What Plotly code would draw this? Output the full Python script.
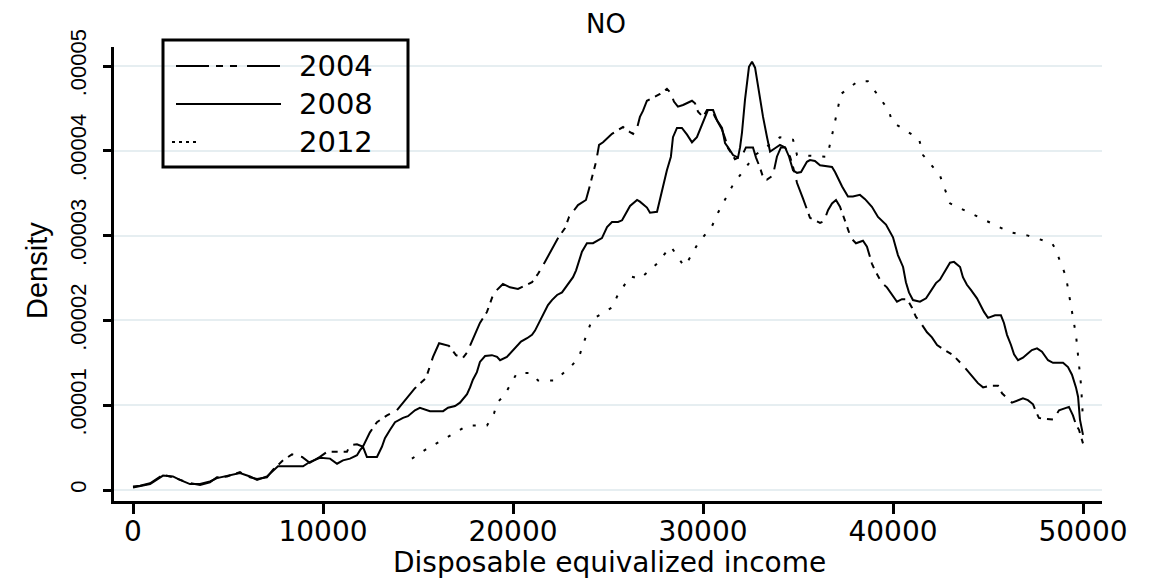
import plotly.graph_objects as go

# ---------------- data (density in units of 1e-5) ----------------
income_2004 = [0, 370, 900, 1580, 2100, 2470, 3000, 3530, 4050, 4420, 4950, 5630, 6160, 6530, 7050, 7370,
               7900, 8370, 8900, 9300, 9840, 10210, 11260, 11420, 11790, 12100, 12470, 12840, 13370, 13890,
               14210, 14470, 14840, 15420, 15630, 15790, 16110, 16630, 17000, 17370, 17580, 17890, 18260,
               18630, 18950, 19160, 19470, 19840, 20260, 21000, 21320, 21680, 22050, 22370, 22740, 22950,
               23420, 23840, 24000, 24160, 24370, 24530, 24740, 25210, 25790, 26160, 26320, 26530, 26680,
               26840, 27050, 27740, 28100, 28310, 28470, 28680, 28950, 29420, 29580, 29740, 30000, 30210,
               30470, 30630, 30790, 31000, 31160, 31320, 31530, 31680, 32050, 32260, 32630, 32790, 33000,
               33160, 33370, 33680, 33890, 34100, 34320, 34580, 34740, 34950, 35260, 35630, 36160, 36370,
               36580, 36790, 37000, 37210, 37420, 37630, 37790, 38050, 38420, 38630, 38890, 39050, 39420,
               39680, 40000, 40210, 40470, 40740, 41000, 41210, 41370, 41790, 42050, 42320, 42580, 43160,
               43680, 44050, 44470, 44740, 45100, 45530, 45740, 46260, 46840, 47100, 47370, 47530, 47680,
               48420, 48740, 49260, 49470, 49630, 49790, 50000]
density_2004 = [0.04, 0.05, 0.08, 0.18, 0.15, 0.12, 0.08, 0.06, 0.09, 0.15, 0.16, 0.21, 0.15, 0.13, 0.15, 0.24,
                0.35, 0.42, 0.39, 0.32, 0.39, 0.45, 0.45, 0.53, 0.54, 0.51, 0.68, 0.80, 0.88, 0.94,
                1.03, 1.10, 1.20, 1.32, 1.47, 1.57, 1.73, 1.70, 1.59, 1.56, 1.62, 1.79, 1.97,
                2.10, 2.30, 2.36, 2.43, 2.39, 2.37, 2.45, 2.55, 2.69, 2.85, 2.97, 3.09, 3.22,
                3.36, 3.42, 3.55, 3.68, 3.87, 4.07, 4.10, 4.20, 4.28, 4.22, 4.20, 4.27, 4.40,
                4.47, 4.59, 4.67, 4.73, 4.68, 4.58, 4.52, 4.54, 4.59, 4.56, 4.46, 4.40, 4.48,
                4.48, 4.40, 4.33, 4.25, 4.15, 4.03, 3.96, 3.90, 3.94, 4.04, 4.04, 3.92, 3.80,
                3.69, 3.66, 3.71, 3.93, 4.04, 4.04, 3.93, 3.81, 3.62, 3.44, 3.21, 3.15, 3.17,
                3.30, 3.38, 3.42, 3.34, 3.21, 3.08, 2.97, 2.91, 2.94, 2.87, 2.67, 2.59, 2.44,
                2.39, 2.28, 2.22, 2.25, 2.25, 2.15, 2.04, 2.00, 1.86, 1.80, 1.71, 1.67, 1.59,
                1.47, 1.37, 1.26, 1.21, 1.23, 1.23, 1.14, 1.03, 1.08, 1.06, 1.01, 0.92, 0.85,
                0.83, 0.94, 0.98, 0.88, 0.77, 0.71, 0.55]

income_2008 = [0, 370, 900, 1580, 2100, 2470, 3000, 3530, 4050, 4420, 4950, 5630, 6160, 6530, 7050, 7370,
               7630, 8950, 9300, 9840, 10370, 10740, 11050, 11420, 11790, 11950, 12100, 12310, 12840, 13100,
               13260, 13530, 13790, 14210, 14470, 14840, 15100, 15630, 16320, 16580, 16950, 17210, 17370,
               17580, 17740, 17890, 18100, 18260, 18530, 18890, 19160, 19320, 19680, 20000, 20210, 20420,
               20740, 21000, 21160, 21320, 21530, 21840, 22050, 22320, 22580, 22740, 22950, 23160, 23320,
               23470, 23630, 23890, 24210, 24680, 24950, 25210, 25530, 25740, 25950, 26160, 26530, 26680,
               27050, 27210, 27580, 27740, 27890, 28100, 28310, 28420, 28630, 28890, 29160, 29420, 29680,
               29840, 30100, 30260, 30530, 30740, 31000, 31160, 31320, 31580, 31840, 31950, 32050, 32210,
               32420, 32580, 32740, 32840, 33000, 33160, 33370, 33530, 33790, 34050, 34320, 34530, 34740,
               34950, 35160, 35470, 35630, 35890, 36160, 36790, 36950, 37100, 37320, 37630, 37890, 38260,
               38530, 38890, 39210, 39630, 40000, 40260, 40530, 40680, 40840, 41050, 41420, 41740, 41950,
               42260, 42470, 42840, 43000, 43210, 43530, 43680, 43890, 44100, 44420, 44790, 45000, 45370,
               45680, 45840, 46000, 46210, 46370, 46580, 46840, 47050, 47310, 47580, 47840, 48160, 48420,
               48950, 49210, 49420, 49630, 49740, 49840, 50000]
density_2008 = [0.03, 0.05, 0.07, 0.17, 0.16, 0.12, 0.07, 0.07, 0.10, 0.14, 0.17, 0.20, 0.16, 0.12, 0.16, 0.22,
                0.28, 0.28, 0.33, 0.38, 0.37, 0.31, 0.35, 0.37, 0.41, 0.47, 0.51, 0.39, 0.39, 0.51,
                0.61, 0.71, 0.80, 0.85, 0.87, 0.94, 0.97, 0.93, 0.93, 0.97, 0.99, 1.03, 1.07,
                1.13, 1.21, 1.30, 1.39, 1.51, 1.58, 1.59, 1.57, 1.53, 1.57, 1.65, 1.71, 1.75,
                1.79, 1.83, 1.88, 1.95, 2.04, 2.18, 2.24, 2.30, 2.33, 2.38, 2.44, 2.51, 2.59,
                2.69, 2.81, 2.91, 2.91, 2.97, 3.10, 3.16, 3.16, 3.18, 3.27, 3.35, 3.42, 3.40,
                3.33, 3.27, 3.28, 3.44, 3.57, 3.77, 3.93, 4.16, 4.27, 4.27, 4.19, 4.10, 4.16,
                4.25, 4.39, 4.48, 4.48, 4.36, 4.27, 4.09, 4.04, 3.95, 3.92, 4.04, 4.21, 4.60,
                4.99, 5.05, 4.98, 4.83, 4.60, 4.40, 4.16, 3.99, 4.03, 4.07, 4.04, 3.93, 3.77,
                3.74, 3.75, 3.87, 3.89, 3.88, 3.83, 3.81, 3.75, 3.68, 3.58, 3.46, 3.46, 3.48,
                3.43, 3.34, 3.22, 3.13, 2.98, 2.77, 2.63, 2.45, 2.33, 2.24, 2.22, 2.26, 2.33,
                2.44, 2.48, 2.62, 2.68, 2.69, 2.63, 2.51, 2.42, 2.36, 2.26, 2.10, 2.03, 2.06,
                2.06, 1.97, 1.83, 1.71, 1.60, 1.53, 1.56, 1.60, 1.65, 1.67, 1.63, 1.53, 1.50,
                1.50, 1.45, 1.36, 1.21, 1.10, 0.83, 0.65]

income_2012 = [14680, 15420, 17000, 17580, 18630, 19000, 19160, 19530, 19680, 20210, 20950, 21320, 22210,
               23100, 23470, 23630, 24160, 25260, 25470, 26160, 26680, 27580, 27740, 28310, 29000, 29210,
               29740, 30470, 30790, 31580, 32740, 34050, 34740, 34950, 36530, 36740, 37260, 38160, 38680,
               39790, 39950, 41370, 41580, 42470, 43000, 44840, 46160, 47100, 48370, 48530, 49100, 49630,
               49790, 49900, 50000]
density_2012 = [0.37, 0.48, 0.68, 0.76, 0.76, 0.90, 1.03, 1.11, 1.17, 1.38, 1.38, 1.29, 1.29,
                1.47, 1.56, 1.68, 2.01, 2.16, 2.28, 2.52, 2.49, 2.67, 2.72, 2.87, 2.64, 2.70,
                2.91, 3.11, 3.27, 3.60, 3.95, 4.16, 4.13, 3.95, 3.93, 4.13, 4.67, 4.82, 4.82,
                4.47, 4.34, 4.14, 3.95, 3.71, 3.38, 3.18, 3.04, 3.00, 2.91, 2.85, 2.52, 1.83,
                1.42, 1.23, 0.83]

years = ["2004", "2008", "2012"]
x_ticks = [0, 10000, 20000, 30000, 40000, 50000]
x_ticktext = ["0", "10000", "20000", "30000", "40000", "50000"]
y_ticks = [0, 1e-5, 2e-5, 3e-5, 4e-5, 5e-5]
y_ticktext = ["0", ".00001", ".00002", ".00003", ".00004", ".00005"]

DASH_2004 = "30px,6px,6px,6px,6px,8px"
DASH_2012 = "3px,11px"

# ---------------- figure ----------------
# the page body adds an 8px offset; layout below is in figure pixels
OFF = 8
W, H = 1161 - OFF, 578 - OFF
L, R, T, B = 114 - OFF, 1102 - OFF, 47 - OFF, 501 - OFF  # plot area (figure pixels)


def px(x):  # screen x -> paper
    return (x - OFF - L) / (R - L)


def py(y):  # screen y -> paper
    return (B - (y - OFF)) / (B - T)


fig = go.Figure()
series = [
    (income_2004, density_2004, DASH_2004),
    (income_2008, density_2008, "solid"),
    (income_2012, density_2012, DASH_2012),
]
for (xs, ys, dash), name in zip(series, years):
    fig.add_trace(go.Scatter(
        x=xs, y=[v * 1e-5 for v in ys], mode="lines", name=name, showlegend=False,
        line=dict(color="black", width=2, dash=dash),
    ))

fig.update_layout(
    width=W, height=H,
    margin=dict(l=L, r=W - R, t=T, b=H - B, pad=0),
    plot_bgcolor="white", paper_bgcolor="white",
    font=dict(family="Liberation Sans", color="black"),
    xaxis=dict(
        range=[-1000, 51000], tickvals=x_ticks, ticktext=x_ticktext,
        showgrid=False, zeroline=False, showline=True, linewidth=3, linecolor="black",
        ticks="outside", ticklen=10, tickwidth=3, tickcolor="black",
        tickfont=dict(family="DejaVu Sans", size=28, color="black"),
        ticklabelstandoff=-7,
    ),
    yaxis=dict(
        range=[-1.297e-6, 5.224e-5], tickvals=y_ticks, ticktext=y_ticktext, tickangle=-90,
        showgrid=True, gridcolor="#e6eef1", gridwidth=2, zeroline=False,
        showline=True, linewidth=3, linecolor="black",
        ticks="outside", ticklen=8, tickwidth=3, tickcolor="black",
        tickfont=dict(family="Liberation Sans", size=22, color="black"),
        ticklabelstandoff=8,
    ),
)

annotations = [
    dict(text="NO", x=px(606), y=py(24), xref="paper", yref="paper", showarrow=False,
         xanchor="center", yanchor="middle", font=dict(family="DejaVu Sans", size=26)),
    dict(text="Disposable equivalized income", x=px(609), y=py(562), xref="paper", yref="paper",
         showarrow=False, xanchor="center", yanchor="middle", font=dict(family="DejaVu Sans", size=28)),
    dict(text="Density", x=px(37), y=py(271), xref="paper", yref="paper", showarrow=False,
         textangle=-90, xanchor="center", yanchor="middle", font=dict(family="Liberation Sans", size=29)),
]
legend_rows = [66, 104, 142]
for name, yrow in zip(years, legend_rows):
    annotations.append(dict(text=name, x=px(297), y=py(yrow), xref="paper", yref="paper",
                            showarrow=False, xanchor="left", yanchor="middle",
                            font=dict(family="DejaVu Sans", size=29)))

shapes = [
    dict(type="rect", xref="paper", yref="paper", x0=px(163), x1=px(408), y0=py(167), y1=py(40),
         line=dict(color="black", width=3), fillcolor="rgba(0,0,0,0)"),
    dict(type="line", xref="paper", yref="paper", x0=px(176), x1=px(285), y0=py(66), y1=py(66),
         line=dict(color="black", width=2, dash="33px,7px,7px,7px,7px,10px")),
    dict(type="line", xref="paper", yref="paper", x0=px(176), x1=px(281), y0=py(104), y1=py(104),
         line=dict(color="black", width=2)),
    dict(type="line", xref="paper", yref="paper", x0=px(172), x1=px(197), y0=py(142), y1=py(142),
         line=dict(color="black", width=2, dash="3px,4px")),
]
fig.update_layout(annotations=annotations, shapes=shapes)

fig.write_html("out.html")
